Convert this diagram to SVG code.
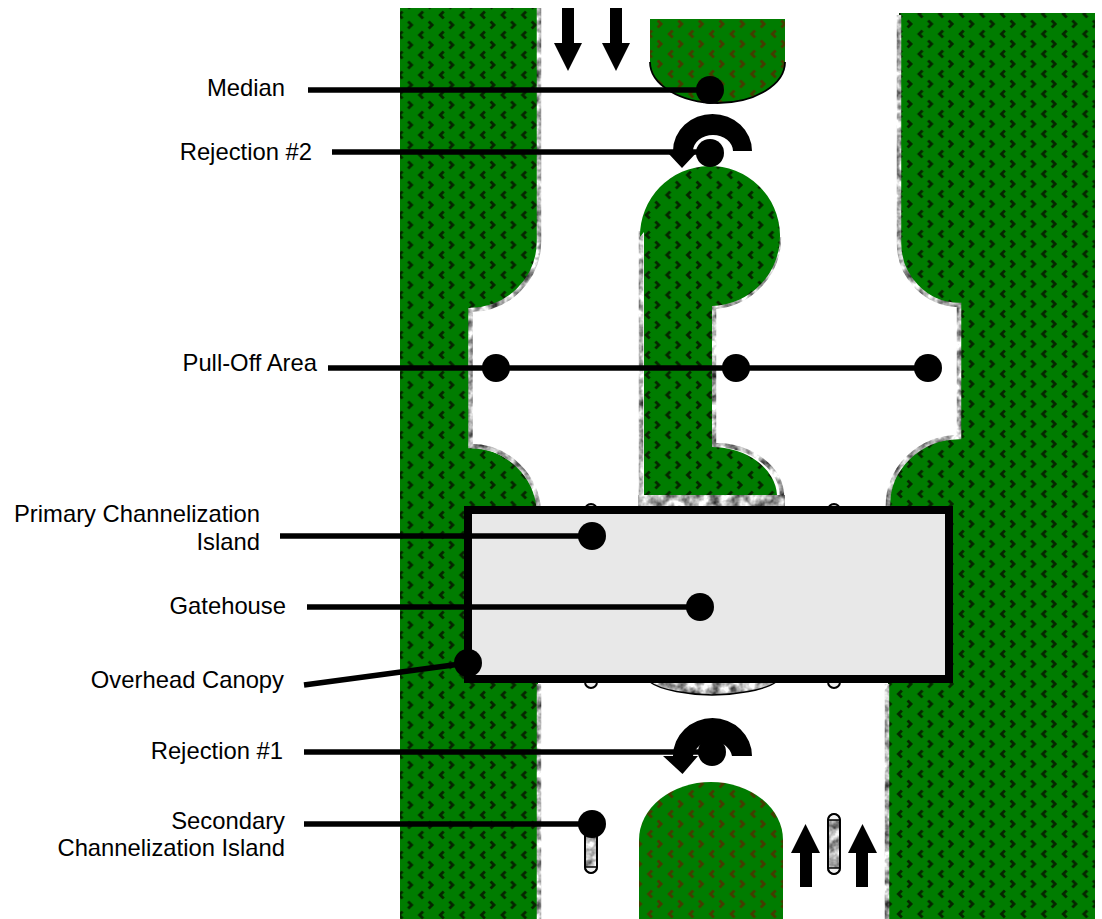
<svg xmlns="http://www.w3.org/2000/svg" width="1102" height="919" viewBox="0 0 1102 919">
<style>
text{font-family:"Liberation Sans",Arial,sans-serif;font-size:23.8px;fill:#000;text-anchor:end}
.edge{fill:none;stroke:#b8b8b8;stroke-width:4.500;filter:url(#marble)}
.solid{fill:#bbb;filter:url(#marble)}
.lead{stroke:#000;stroke-width:5.500;fill:none}
.post{fill:#c4c4c4;stroke:#000;stroke-width:2}
.cap{fill:#f2f2f2;stroke:#000;stroke-width:1.600}
.chev{fill:none;stroke-width:2.800}
</style>
<defs>
<path id="chevrons" class="chev" d="M2.500,1.500 L6,5 L2.500,8.500 M17.500,11.500 L14,15 L17.500,18.500"/>
<pattern id="grassL" width="20.6" height="20" patternUnits="userSpaceOnUse" x="-6.400" y="0">
<rect width="20.6" height="20" fill="#007c00"/><use href="#chevrons" stroke="#062600"/>
</pattern>
<pattern id="grassR" width="20.6" height="20" patternUnits="userSpaceOnUse" x="-1.400" y="-1">
<rect width="20.6" height="20" fill="#007c00"/><use href="#chevrons" stroke="#062600"/>
</pattern>
<pattern id="grassB" width="20.6" height="20" patternUnits="userSpaceOnUse" x="-4" y="-1">
<rect width="20.6" height="20" fill="#007c00"/><use href="#chevrons" stroke="#443c00"/>
</pattern>
<filter id="marble" x="-20" y="-20" width="1200" height="1000" filterUnits="userSpaceOnUse" color-interpolation-filters="sRGB">
<feTurbulence type="fractalNoise" baseFrequency="0.1" numOctaves="3" seed="4" result="n"/>
<feColorMatrix in="n" type="matrix" values="1.500 0 0 0 -0.050 1.500 0 0 0 -0.050 1.500 0 0 0 -0.050 0 0 0 0 1" result="c"/>
<feComposite in="c" in2="SourceAlpha" operator="in"/>
</filter>
</defs>
<g id="left-verge">
<path fill="url(#grassL)" d="M400,8 H538 V241 A68,68 0 0 1 470,309 V448 A68,68 0 0 1 538,516 V919 H400 Z"/>
<path class="edge" d="M539,8 V241 A69,69 0 0 1 470.500,310 M470.500,308 V446 A69,69 0 0 1 539,512"/>
<path class="edge" d="M539,684 V919"/>
</g>
<g id="right-verge">
<path fill="url(#grassR)" d="M899,13 H1095 V919 H888 V505 A72,68 0 0 1 959,437 V305 A61,62 0 0 1 899,243 Z"/>
<path class="edge" d="M899,15 V243 A61,62 0 0 0 959,305 V437 A72,68 0 0 0 888,507"/>
<path class="edge" d="M887,684 V919"/>
</g>
<g id="median">
<path fill="url(#grassB)" d="M650,19 H785 V62 A67.500,41 0 0 1 650,62 Z"/>
<path d="M650,62 A67.500,41 0 0 0 785,62" fill="none" stroke="#000" stroke-width="1.800"/>
</g>
<g id="pull-off-island">
<path class="solid" d="M638,495 H785 V510 H638 Z"/>
<path class="edge" d="M641,495 V231 M779,237 A70,70 0 0 1 714,307 V445 A68,52 0 0 1 782,497"/>
<path fill="url(#grassL)" d="M640,237 A70,70 0 1 1 712,306 V447 A66,50 0 0 1 777,495 H644 V232 Z"/>
</g>
<g id="island-tail">
<path class="solid" d="M650,682 H776 C765,690 735,695 712,695 C690,695 660,690 650,682 Z"/>
<path d="M650,682 C660,690 690,695 712,695 C735,695 765,690 776,682" fill="none" stroke="#000" stroke-width="1.400"/>
</g>
<g id="secondary-island">
<path fill="url(#grassB)" d="M639,919 V840 A72,58 0 0 1 783,840 V919 Z"/>
</g>
<g id="posts">
<rect class="post" x="585" y="504" width="12" height="60" rx="6"/>
<rect class="post" x="828" y="504" width="12" height="60" rx="6"/>
<rect class="post" style="fill:#eee" x="585" y="630" width="12" height="58" rx="6"/>
<rect class="post" style="fill:#eee" x="828" y="630" width="12" height="58" rx="6"/>
<rect class="solid" x="585" y="815" width="12" height="58" rx="6"/>
<path class="cap" d="M585,867 H597 A6,6 0 0 1 585,867 Z"/>
<path class="post" style="fill:none" d="M585,821 A6,6 0 0 1 597,821 V867 A6,6 0 0 1 585,867 Z"/>
<rect class="solid" x="828" y="814" width="12" height="60" rx="6"/>
<path class="cap" d="M828,868 H840 A6,6 0 0 1 828,868 Z M828,820 H840 A6,6 0 0 0 828,820 Z"/>
<path class="post" style="fill:none" d="M828,820 A6,6 0 0 1 840,820 V868 A6,6 0 0 1 828,868 Z"/>
</g>
<g id="canopy">
<rect x="468" y="510" width="481" height="169" fill="#e8e8e8" stroke="#000" stroke-width="8"/>
</g>
<g id="traffic-arrows">
<path d="M562,8 H574 V43 H582 L568,71 L554,43 H562 Z"/>
<path d="M610,8 H622 V43 H630 L616,71 L602,43 H610 Z"/>
<path d="M800,887 V853 H791 L805.500,824 L820,853 H812 V887 Z"/>
<path d="M856,887 V853 H848 L862.500,824 L877,853 H868 V887 Z"/>
<path id="rejection-2-arrow" d="M752,151 H733 A20,16 0 0 0 693,151 L698,151 L682,168 L668,153 L673,151 A39.500,37 0 0 1 752,151 Z"/>
<path id="rejection-1-arrow" d="M752,756 H732 A20,19 0 0 0 693,756 L698,756 L682.500,774 L663,756 L673,756 A39.500,38 0 0 1 752,756 Z"/>
</g>
<g id="connectors">
<path class="lead" d="M308,90 H710"/>
<path class="lead" d="M332,152 H710"/>
<path class="lead" d="M328,368 H928"/>
<path class="lead" d="M280,536 H592"/>
<path class="lead" d="M307,607 H700"/>
<path class="lead" d="M304,685 L468,663"/>
<path class="lead" d="M304,752 H712"/>
<path class="lead" d="M304,824 H592"/>
<g fill="#000">
<circle cx="710" cy="90" r="14"/>
<circle cx="710" cy="153" r="14"/>
<circle cx="496" cy="368" r="14"/>
<circle cx="736" cy="368" r="14"/>
<circle cx="928" cy="368" r="14"/>
<circle cx="592" cy="536" r="14"/>
<circle cx="700" cy="607" r="14"/>
<circle cx="468" cy="663" r="14"/>
<circle cx="712" cy="752" r="14"/>
<circle cx="592" cy="824" r="14"/>
</g>
</g>
<g id="labels">
<text x="285" y="96">Median</text>
<text x="312" y="160">Rejection #2</text>
<text x="317" y="371">Pull-Off Area</text>
<text x="260" y="522">Primary Channelization</text>
<text x="260" y="550">Island</text>
<text x="286" y="614">Gatehouse</text>
<text x="284" y="688">Overhead Canopy</text>
<text x="283" y="759">Rejection #1</text>
<text x="285" y="829">Secondary</text>
<text x="285" y="856">Channelization Island</text>
</g>
</svg>
